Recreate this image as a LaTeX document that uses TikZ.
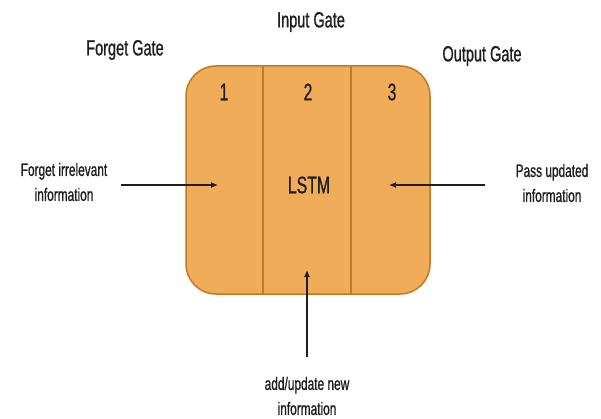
\documentclass[tikz,border=0pt]{standalone}
\usepackage{fontspec}
\setmainfont{Liberation Sans}[FakeStretch=0.66, FakeBold=0.8]
\usetikzlibrary{arrows.meta}
\definecolor{boxfill}{HTML}{F0AC58}
\definecolor{boxline}{HTML}{C27A22}
\definecolor{txt}{HTML}{1E1E1E}
\tikzset{
  lstmbox/.style={draw=boxline, fill=boxfill, line width=1.5pt, rounded corners=30pt, inner sep=0pt},
  divider/.style={draw=boxline, line width=1.2pt},
  gatelabel/.style={text=txt, font=\fontsize{22}{26}\selectfont, inner sep=0pt},
  numlabel/.style={text=txt, font=\fontsize{24}{28}\selectfont, inner sep=0pt},
  sidelabel/.style={text=txt, font=\fontsize{18}{25}\selectfont, align=center, inner sep=0pt},
  arrowline/.style={draw=txt, line width=1.2pt, -{Latex[length=7pt,width=6pt]}}
}
\begin{document}
\begin{tikzpicture}[x=1pt,y=-1pt]
\useasboundingbox[fill=white] (0,0) rectangle (601,419);
\node[lstmbox, minimum width=244pt, minimum height=228pt] (box) at (308,180) {};
\draw[divider] (263,66.5) -- (263,293.5);
\draw[divider] (351,66.5) -- (351,293.5);
\node[numlabel] (n1) at (224,92) {1};
\node[numlabel] (n2) at (308,92) {2};
\node[numlabel] (n3) at (392,92) {3};
\node[numlabel] (lstm) at (309,185) {LSTM};
\node[gatelabel] (input) at (311,22) {Input Gate};
\node[gatelabel] (forget) at (125,50) {Forget Gate};
\node[gatelabel] (output) at (482,56) {Output Gate};
\node[sidelabel] (lt) at (64,182) {Forget irrelevant\\information};
\node[sidelabel] (rt) at (552,183) {Pass updated\\information};
\node[sidelabel] (bt) at (307,396) {add/update new\\information};
\coordinate (ls) at (121,185);
\coordinate (le) at (218,185);
\coordinate (rs) at (485,185);
\coordinate (re) at (389,185);
\coordinate (bs) at (307,357);
\coordinate (be) at (307,270);
\draw[arrowline] (ls) -- (le);
\draw[arrowline] (rs) -- (re);
\draw[arrowline] (bs) -- (be);
\end{tikzpicture}
\end{document}
